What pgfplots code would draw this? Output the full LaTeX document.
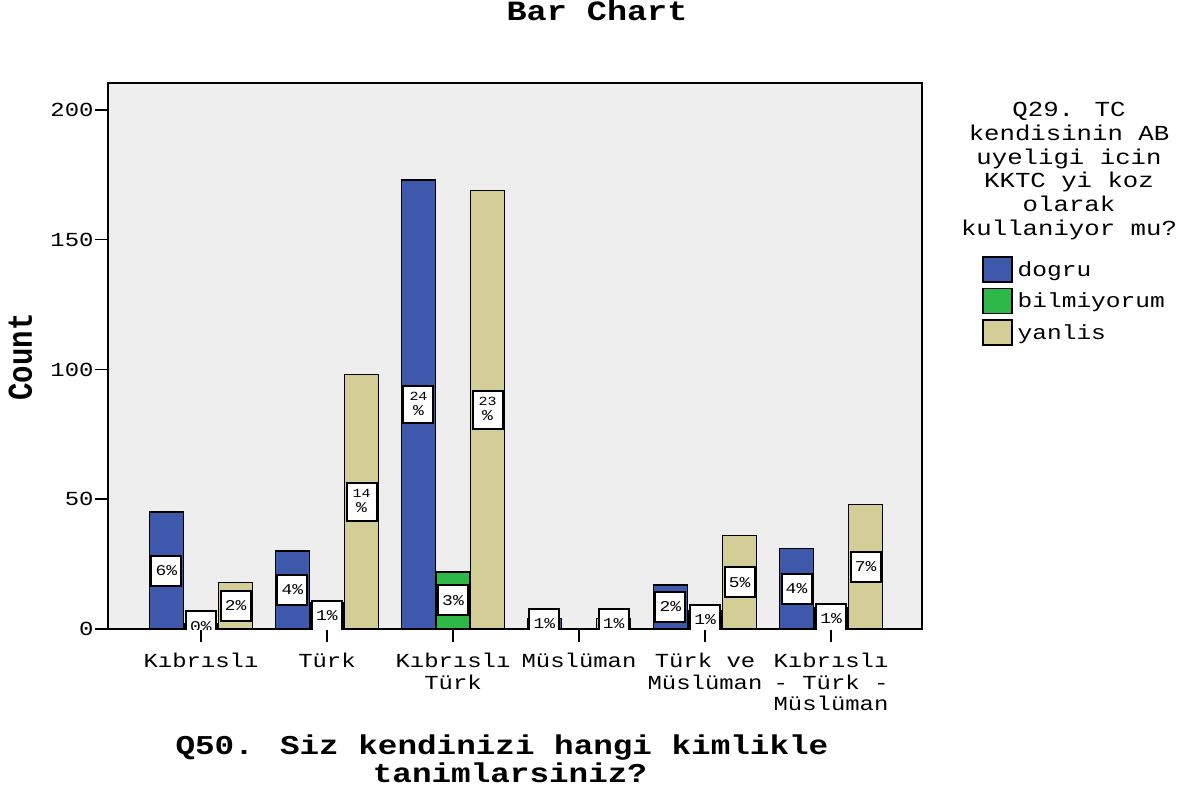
\documentclass[border=0pt]{standalone}
\usepackage{pgfplots}
\pgfplotsset{compat=1.18}
\usepackage{fontspec}
\setmainfont[FakeStretch=1.2]{Liberation Mono}
\newfontfamily\countfont[FakeStretch=0.833]{Liberation Mono}
\definecolor{cblue}{HTML}{3E58AC}
\definecolor{cgreen}{HTML}{2EB848}
\definecolor{ctan}{HTML}{D3CE98}
\definecolor{cbg}{HTML}{EEEEEE}
\newcommand\fs[1]{\fontsize{#1}{#1}\selectfont}
\newcommand\pa[1]{#1\%}
\newcommand\pb[1]{\fontsize{12.5}{16}\selectfont\rule{0pt}{13bp}#1\\\%\rule[-6bp]{0pt}{6bp}}
\pgfplotsset{
  mybar/.style={ybar, bar width=0.27, bar shift=#1, draw=black, line width=1.5bp,
    legend image code/.code={\draw[##1, line width=1.5bp] (0bp,-12.5bp) rectangle (29bp,12.5bp);},
    point meta=explicit symbolic,
    nodes near coords={\pgfplotspointmeta},
    visualization depends on={y \as \rawy},
    every node near coord/.append style={anchor=center,
      shift={(axis direction cs:#1,-\rawy/2)},
      draw=black, fill=white, line width=2bp, text=black,
      font=\fs{15}, align=center, inner sep=2bp,
      minimum width=30bp, minimum height=30bp}},
}
\begin{document}
\begin{tikzpicture}
\path[use as bounding box] (-108bp,-160bp) rectangle (1094bp,629bp);
\begin{axis}[
  at={(0,0)}, anchor=south west, scale only axis,
  width=814bp, height=546bp,
  xmin=-0.738, xmax=5.722, ymin=0, ymax=210.4,
  clip marker paths=true,
  axis background/.style={fill=cbg},
  axis line style={line width=2bp},
  tick style={line width=1.5bp, black},
  tick align=outside, major tick length=13bp,
  tick pos=left,
  xtick={0,1,2,3,4,5},
  ytick={0,50,100,150,200},
  xticklabels={Kıbrıslı, Türk, {Kıbrıslı\\Türk}, Müslüman, {Türk ve\\Müslüman}, {Kıbrıslı\\- Türk -\\Müslüman}},
  xticklabel style={align=center, font=\fontsize{20}{21.5}\selectfont, anchor=north, yshift=-8bp},
  yticklabel style={font=\fs{20}, xshift=2bp},
  /pgf/number format/assume math mode=true,
  legend style={at={(1.0737,0.683)}, anchor=north west, draw=none, fill=none,
    inner sep=0pt, row sep=5bp, font=\fs{20.5}, nodes={inner xsep=5bp}},
  legend cell align=left,
]
\addplot[mybar=-0.274, fill=cblue] coordinates {
  (0,45) [\pa{6}] (1,30) [\pa{4}] (2,173) [\pb{24}] (3,4) [\pa{1}] (4,17) [\pa{2}] (5,31) [\pa{4}]};
\addlegendentry{dogru}
\addplot[mybar=0, fill=cgreen] coordinates {
  (0,2) [\pa{0}] (1,10) [\pa{1}] (2,22) [\pa{3}] (4,7) [\pa{1}] (5,8) [\pa{1}]};
\addlegendentry{bilmiyorum}
\addplot[mybar=0.274, fill=ctan] coordinates {
  (0,18) [\pa{2}] (1,98) [\pb{14}] (2,169) [\pb{23}] (3,4) [\pa{1}] (4,36) [\pa{5}] (5,48) [\pa{7}]};
\addlegendentry{yanlis}
\end{axis}
\node[anchor=base, font=\bfseries\fs{28}] at (489bp,608bp) {Bar Chart};
\node[anchor=base, font=\bfseries\fs{27.3}] at (394bp,-125bp) {Q50. Siz kendinizi hangi kimlikle};
\node[anchor=base, font=\bfseries\fs{27.3}] at (402bp,-153bp) {tanimlarsiniz?};
\node[rotate=90, anchor=base, font=\countfont\bfseries\fs{35}] at (-76bp,272bp) {Count};
\node[align=center, font=\fontsize{21.5}{23.8}\selectfont] at (961bp,458bp)
  {Q29. TC\\kendisinin AB\\uyeligi icin\\KKTC yi koz\\olarak\\kullaniyor mu?};
\end{tikzpicture}
\end{document}
